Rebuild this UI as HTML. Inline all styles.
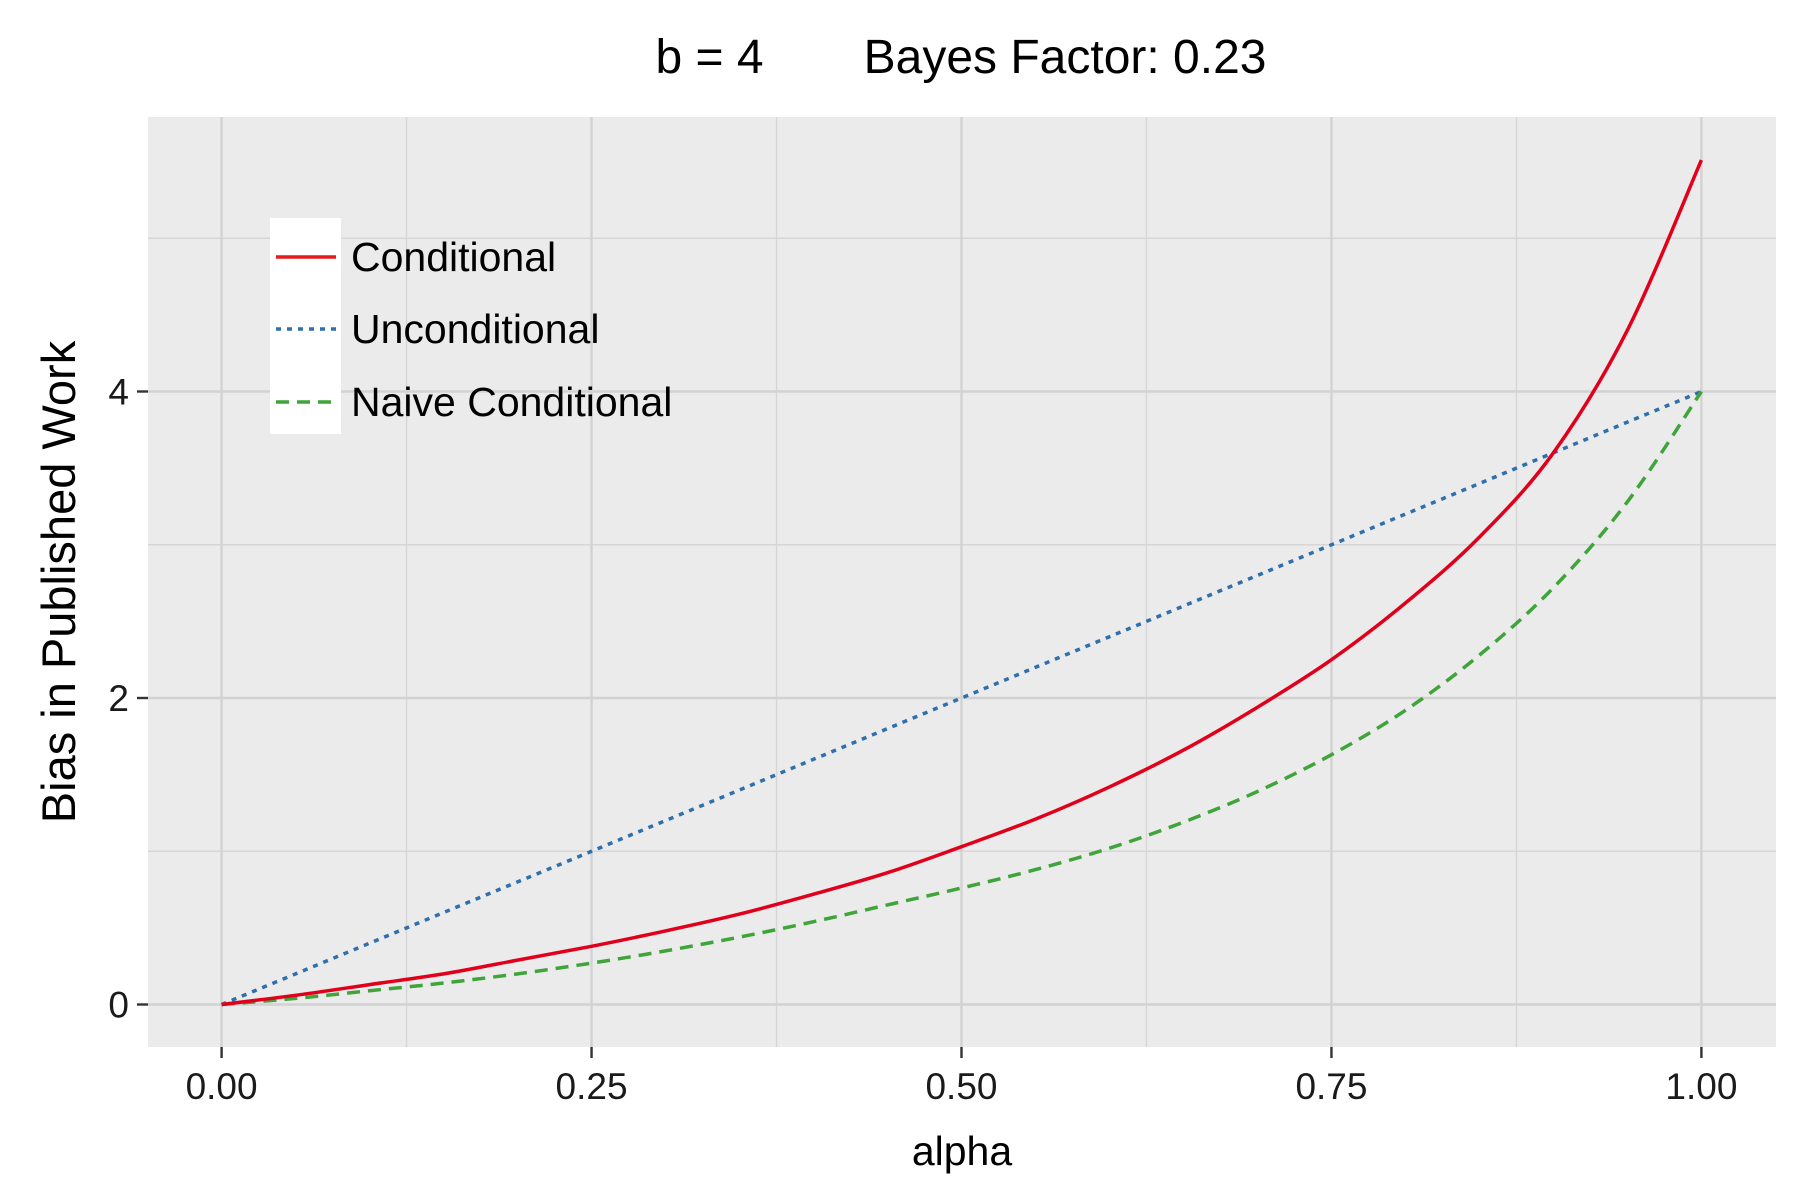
<!DOCTYPE html>
<html><head><meta charset="utf-8"><style>
html,body{margin:0;padding:0;background:#fff;}
svg{display:block;font-family:"Liberation Sans",Arial,sans-serif;}
</style></head><body>
<svg id="chart" width="1800" height="1200" viewBox="0 0 1800 1200">
<rect x="0" y="0" width="1800" height="1200" fill="#fff"/>
<text x="961" y="73" font-size="48" text-anchor="middle">b = 4<tspan dx="100">Bayes Factor: 0.23</tspan></text>
<rect x="148" y="117" width="1628" height="930" fill="#ebebeb"/>
<g id="grid"></g>
<g id="series"></g>
<g id="axes"></g>
<g>
<rect x="270" y="218" width="71" height="216" fill="#fff"/>
<line x1="276" y1="257" x2="336" y2="257" stroke="#e41a1c" stroke-width="3.5"/>
<line x1="276" y1="329" x2="336" y2="329" stroke="#2e6fad" stroke-width="3.5" stroke-dasharray="5 6"/>
<line x1="276" y1="402" x2="336" y2="402" stroke="#3fa43a" stroke-width="3.5" stroke-dasharray="13 8"/>
<text x="351" y="271" font-size="41">Conditional</text>
<text x="351" y="343" font-size="41">Unconditional</text>
<text x="351" y="416" font-size="41">Naive Conditional</text>
</g>
<text x="962" y="1165" font-size="41" text-anchor="middle">alpha</text>
<text transform="translate(75,582) rotate(-90)" font-size="47" text-anchor="middle">Bias in Published Work</text>
</svg>
<script>
const alphas=[0,0.05,0.1,0.15,0.2,0.25,0.3,0.35,0.4,0.45,0.5,0.55,0.6,0.65,0.7,0.75,0.8,0.85,0.9,0.95,1];
const conditional=[0,0.06,0.13,0.2,0.29,0.38,0.48,0.59,0.72,0.86,1.03,1.21,1.42,1.66,1.94,2.25,2.62,3.05,3.6,4.4,5.51];
const unconditional=[0,0.2,0.4,0.6,0.8,1.0,1.2,1.4,1.6,1.8,2.0,2.2,2.4,2.6,2.8,3.0,3.2,3.4,3.6,3.8,4.0];
const naive=[0,0.04,0.09,0.14,0.2,0.27,0.35,0.44,0.54,0.65,0.76,0.88,1.02,1.19,1.39,1.63,1.92,2.28,2.72,3.28,4.0];
const xTicks=[0,0.25,0.5,0.75,1];
const xTickLabels=["0.00","0.25","0.50","0.75","1.00"];
const xMinor=[0.125,0.375,0.625,0.875];
const yTicks=[0,2,4];
const yTickLabels=["0","2","4"];
const yMinor=[1,3,5];
const NS="http://www.w3.org/2000/svg";
function X(v){return 221.6+v*(1701.4-221.6);}
function Y(v){return 1004.5-v*153.25;}
function mk(tag,attrs,parent){const e=document.createElementNS(NS,tag);for(const k in attrs)e.setAttribute(k,attrs[k]);parent.appendChild(e);return e;}
const grid=document.getElementById('grid'),axes=document.getElementById('axes'),series=document.getElementById('series');
yMinor.forEach(v=>{const l=mk('line',{x1:148,x2:1776,y1:Y(v),y2:Y(v),stroke:'#d6d6d6','stroke-width':1.4},grid);

});
xMinor.forEach(v=>{const l=mk('line',{x1:X(v),x2:X(v),y1:117,y2:1047,stroke:'#d6d6d6','stroke-width':1.4},grid);

});
yTicks.forEach((v,i)=>{const l=mk('line',{x1:148,x2:1776,y1:Y(v),y2:Y(v),stroke:'#d2d2d2','stroke-width':2.4},grid);


const t=mk('line',{x1:137,x2:148,y1:Y(v),y2:Y(v),stroke:'#333','stroke-width':2.4},axes);


const tx=mk('text',{x:129,y:Y(v)+13,'font-size':37,'text-anchor':'end',fill:'#1a1a1a'},axes);tx.textContent=yTickLabels[i];

});
xTicks.forEach((v,i)=>{const l=mk('line',{x1:X(v),x2:X(v),y1:117,y2:1047,stroke:'#d2d2d2','stroke-width':2.4},grid);


const t=mk('line',{x1:X(v),x2:X(v),y1:1047,y2:1058,stroke:'#333','stroke-width':2.4},axes);


const tx=mk('text',{x:X(v),y:1099,'font-size':37,'text-anchor':'middle',fill:'#1a1a1a'},axes);tx.textContent=xTickLabels[i];

});
function path(vals){
  const p=vals.map((v,i)=>[X(alphas[i]),Y(v)]);
  let d='M'+p[0][0].toFixed(1)+','+p[0][1].toFixed(1);
  for(let i=0;i<p.length-1;i++){
    const p0=p[Math.max(0,i-1)],p1=p[i],p2=p[i+1],p3=p[Math.min(p.length-1,i+2)];
    const c1=[p1[0]+(p2[0]-p0[0])/6,p1[1]+(p2[1]-p0[1])/6];
    const c2=[p2[0]-(p3[0]-p1[0])/6,p2[1]-(p3[1]-p1[1])/6];
    d+=' C'+c1[0].toFixed(1)+','+c1[1].toFixed(1)+' '+c2[0].toFixed(1)+','+c2[1].toFixed(1)+' '+p2[0].toFixed(1)+','+p2[1].toFixed(1);
  }
  return d;
}
const pu=mk('path',{d:path(unconditional),fill:'none',stroke:'#2e6fad','stroke-width':3.5,'stroke-dasharray':'5 6'},series);


const pn=mk('path',{d:path(naive),fill:'none',stroke:'#3fa43a','stroke-width':3.5,'stroke-dasharray':'13 8'},series);


const pc=mk('path',{d:path(conditional),fill:'none',stroke:'#e0001b','stroke-width':3.5},series);


</script>
</body></html>
